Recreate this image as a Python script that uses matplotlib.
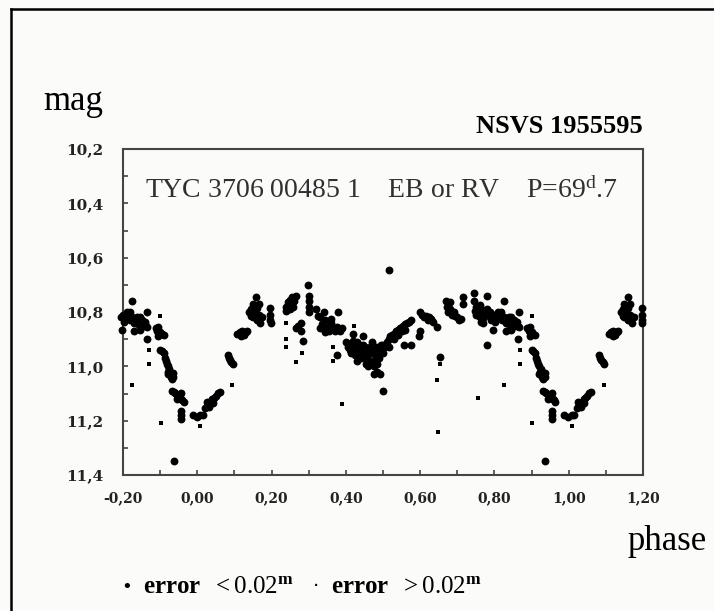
import matplotlib
matplotlib.use("Agg")
import matplotlib.pyplot as plt
from matplotlib.lines import Line2D
from matplotlib.ticker import MultipleLocator, FuncFormatter
import numpy as np

plt.rcParams['mathtext.fontset'] = 'custom'
plt.rcParams['mathtext.rm'] = 'Liberation Serif'
plt.rcParams['mathtext.it'] = 'Liberation Serif:italic'
plt.rcParams['mathtext.bf'] = 'Liberation Serif:bold'

# phase-folded light curve, one cycle (0..1); plotted again shifted by +-1
# error < 0.02 mag (big dots)
big_phase = [0.988, 0.998, 0.008, 0.015,
             0.022, 0.025, 0.028, 0.032, 0.036, 0.040, 0.042, 0.045, 0.050, 0.055, 0.060,
             0.082, 0.085, 0.088, 0.092, 0.095,
             0.108, 0.115, 0.118, 0.120, 0.125, 0.130, 0.133,
             0.140, 0.145, 0.145, 0.150, 0.150, 0.155, 0.159, 0.160, 0.160, 0.165, 0.165, 0.170, 0.175,
             0.196, 0.197, 0.197, 0.198,
             0.240, 0.240, 0.245, 0.250, 0.250, 0.255, 0.258, 0.260, 0.265,
             0.265, 0.272, 0.278, 0.280, 0.285,
             0.299, 0.300, 0.300, 0.301, 0.301,
             0.320, 0.325, 0.330, 0.330, 0.335, 0.340, 0.345, 0.345, 0.350, 0.355, 0.360, 0.360,
             0.365, 0.370, 0.375, 0.380, 0.380, 0.385, 0.390, 0.377,
             0.400, 0.405, 0.410, 0.415, 0.420, 0.420, 0.425, 0.430, 0.430, 0.435, 0.440, 0.440,
             0.445, 0.445, 0.450, 0.455, 0.460, 0.460, 0.465, 0.470, 0.470, 0.475, 0.475, 0.480,
             0.480, 0.485, 0.485, 0.490, 0.490, 0.493, 0.495, 0.500, 0.505, 0.500,
             0.412, 0.418, 0.428, 0.438, 0.448, 0.452, 0.458, 0.468, 0.472, 0.478, 0.488, 0.498,
             0.500, 0.510, 0.515, 0.515, 0.520, 0.525, 0.530, 0.530, 0.535, 0.540, 0.540, 0.545,
             0.550, 0.550, 0.555, 0.560, 0.560, 0.565, 0.570, 0.575, 0.557, 0.575,
             0.515,
             0.600, 0.605, 0.610, 0.615, 0.620, 0.625, 0.630, 0.635, 0.600, 0.598, 0.645, 0.654,
             0.670, 0.672, 0.675, 0.680, 0.680, 0.685, 0.690, 0.695, 0.700, 0.705, 0.710, 0.715, 0.715,
             0.745, 0.745, 0.750, 0.750, 0.755, 0.760, 0.760, 0.765, 0.765, 0.770, 0.770, 0.775,
             0.780, 0.780, 0.785, 0.790, 0.795, 0.797, 0.800, 0.805, 0.780,
             0.748, 0.752, 0.758, 0.762, 0.768, 0.772, 0.788, 0.792, 0.802,
             0.810, 0.815, 0.820, 0.825, 0.825, 0.830, 0.830, 0.835, 0.840, 0.845, 0.845, 0.850,
             0.855, 0.860, 0.865, 0.865, 0.864, 0.812, 0.818, 0.838, 0.842, 0.852, 0.858,
             0.888, 0.892, 0.895, 0.895, 0.900, 0.905, 0.910,
             0.900, 0.905, 0.910, 0.912, 0.915, 0.918, 0.920, 0.920, 0.922, 0.925, 0.925, 0.928,
             0.930, 0.932, 0.935, 0.935,
             0.932, 0.937, 0.940, 0.945, 0.945, 0.950, 0.953, 0.955, 0.957, 0.960, 0.963,
             0.955, 0.955, 0.956,
             0.937]
big_mag = [11.18, 11.185, 11.18, 11.18,
           11.155, 11.13, 11.14, 11.15, 11.13, 11.12, 11.135, 11.115, 11.11, 11.10, 11.095,
           10.96, 10.97, 10.975, 10.985, 10.99,
           10.88, 10.875, 10.89, 10.87, 10.885, 10.875, 10.87,
           10.80, 10.79, 10.815, 10.77, 10.82, 10.80, 10.745, 10.785, 10.83, 10.81, 10.77, 10.84, 10.82,
           10.785, 10.81, 10.83, 10.84,
           10.78, 10.795, 10.765, 10.755, 10.79, 10.745, 10.78, 10.76, 10.74,
           10.86, 10.85, 10.87, 10.84, 10.905,
           10.70, 10.74, 10.76, 10.78, 10.80,
           10.79, 10.815, 10.82, 10.86, 10.845, 10.80, 10.83, 10.875, 10.855, 10.87, 10.84, 10.825,
           10.86, 10.87, 10.855, 10.86, 10.80, 10.87, 10.86, 10.96,
           10.91, 10.93, 10.92, 10.95, 10.93, 10.88, 10.96, 10.91, 10.98, 10.95, 10.97, 10.935,
           10.92, 10.89, 10.94, 10.99, 10.96, 11.00, 10.93, 10.95, 10.91, 11.00, 11.03, 10.97,
           10.93, 11.02, 10.99, 10.94, 10.97, 11.03, 10.92, 10.95, 10.93, 11.09,
           10.94, 10.905, 10.94, 10.92, 10.96, 10.93, 10.975, 10.94, 10.98, 10.95, 10.955, 10.94,
           10.92, 10.91, 10.90, 10.93, 10.89, 10.885, 10.88, 10.90, 10.87, 10.865, 10.885, 10.86,
           10.855, 10.87, 10.85, 10.845, 10.865, 10.84, 10.835, 10.83, 10.92, 10.92,
           10.645,
           10.80, 10.81, 10.82, 10.815, 10.83, 10.82, 10.825, 10.835, 10.87, 10.89, 10.855, 10.965,
           10.76, 10.78, 10.80, 10.79, 10.765, 10.81, 10.80, 10.815, 10.82, 10.83, 10.825, 10.745, 10.77,
           10.73, 10.76, 10.78, 10.81, 10.80, 10.775, 10.82, 10.79, 10.835, 10.81, 10.84, 10.80,
           10.74, 10.79, 10.80, 10.815, 10.82, 10.865, 10.81, 10.825, 10.92,
           10.795, 10.79, 10.79, 10.80, 10.80, 10.82, 10.80, 10.83, 10.835,
           10.80, 10.815, 10.83, 10.76, 10.82, 10.84, 10.87, 10.83, 10.845, 10.82, 10.865, 10.84,
           10.85, 10.835, 10.80, 10.855, 10.90, 10.82, 10.80, 10.82, 10.835, 10.83, 10.845,
           10.86, 10.87, 10.855, 10.89, 10.875, 10.88, 10.885,
           10.94, 10.945, 10.95, 10.97, 10.98, 10.99, 11.00, 11.03, 11.02, 11.03, 11.01, 11.04,
           11.035, 11.045, 11.04, 11.025,
           11.09, 11.095, 11.10, 11.105, 11.12, 11.11, 11.115, 11.10, 11.12, 11.125, 11.13,
           11.165, 11.18, 11.195,
           11.35]

# error > 0.02 mag (small dots)
faint_phase = [0.900, 0.870, 0.870, 0.825, 0.902, 0.008, 0.094, 0.240, 0.240, 0.240,
               0.267, 0.283, 0.365, 0.365, 0.390, 0.422, 0.654, 0.645, 0.649, 0.756]
faint_mag = [10.815, 10.94, 10.99, 11.07, 11.21, 11.22, 11.07, 10.84, 10.90, 10.93,
             10.985, 10.95, 10.93, 10.98, 11.14, 10.85, 10.99, 11.05, 11.24, 11.115]


def fold(phase, mag):
    p = np.array(phase)
    m = np.array(mag)
    lo = p >= 0.795
    hi = p <= 0.205
    return (np.concatenate([p, p[lo] - 1, p[hi] + 1]),
            np.concatenate([m, m[lo], m[hi]]))


bx, by = fold(big_phase, big_mag)
fx, fy = fold(faint_phase, faint_mag)

bg = '#fbfcfa'
fig = plt.figure(figsize=(7.14, 6.11), dpi=100, facecolor=bg)
ax = fig.add_axes([123 / 714, 1 - 475 / 611, 520 / 714, 326 / 611], facecolor=bg)

ax.scatter(bx, by, s=32, c='black', marker='o', linewidths=0, clip_on=False, zorder=3)
ax.scatter(fx, fy, s=6, c='black', marker='s', linewidths=0, clip_on=False, zorder=3)

ax.set_xlim(-0.2, 1.2)
ax.set_ylim(11.4, 10.2)
ax.xaxis.set_major_locator(MultipleLocator(0.2))
ax.xaxis.set_minor_locator(MultipleLocator(0.1))
ax.yaxis.set_major_locator(MultipleLocator(0.2))
ax.yaxis.set_minor_locator(MultipleLocator(0.1))
ax.xaxis.set_major_formatter(FuncFormatter(lambda v, _: f"{v:.2f}".replace('.', ',')))
ax.yaxis.set_major_formatter(FuncFormatter(lambda v, _: f"{v:.1f}".replace('.', ',')))

for s in ax.spines.values():
    s.set_color('#444444')
    s.set_linewidth(1.5)
ax.tick_params(which='both', direction='in', length=3.5, width=1.2, color='#444444')
ax.tick_params(axis='x', which='major', pad=12)
ax.tick_params(axis='y', which='major', pad=14)
for lab in ax.get_xticklabels():
    lab.set_fontfamily('DejaVu Serif')
    lab.set_fontweight('bold')
    lab.set_fontsize(10)
    lab.set_color('#222222')
for lab in ax.get_yticklabels():
    lab.set_fontfamily('DejaVu Serif')
    lab.set_fontweight('bold')
    lab.set_fontsize(11)
    lab.set_color('#222222')

serif = 'Liberation Serif'
fig.text(43 / 714, 1 - 110 / 611, 'mag', family=serif, fontsize=25, va='baseline')
fig.text(707 / 714, 1 - 550 / 611, 'phase', family=serif, fontsize=25, ha='right', va='baseline')
fig.text(643 / 714, 1 - 133 / 611, 'NSVS 1955595', family=serif, fontsize=19, weight='bold',
         ha='right', va='baseline')
fig.text(145 / 714, 1 - 198 / 611, r'TYC 3706 00485 1    EB or RV    P=69$^{\mathrm{d}}$.7',
         family=serif, fontsize=20, color='#303030', va='baseline')

# legend line at the bottom
fig.text(127 / 714, 1 - 592 / 611, '\u2022', family='DejaVu Sans', fontsize=13, ha='center', va='baseline')
fig.text(143 / 714, 1 - 593 / 611, r'$\mathbf{error}$  $<0.02^{\mathbf{m}}$',
         family=serif, fontsize=18, va='baseline')
fig.text(316 / 714, 1 - 592 / 611, '\u00b7', family='DejaVu Sans', fontsize=14, ha='center', va='baseline')
fig.text(331 / 714, 1 - 593 / 611, r'$\mathbf{error}$  $>0.02^{\mathbf{m}}$',
         family=serif, fontsize=18, va='baseline')

# page frame (top and left edges visible)
fig.add_artist(Line2D([11 / 714, 1], [1 - 9 / 611, 1 - 9 / 611], transform=fig.transFigure,
                      color='black', linewidth=1.8))
fig.add_artist(Line2D([11 / 714, 11 / 714], [0, 1 - 9 / 611], transform=fig.transFigure,
                      color='black', linewidth=1.8))

fig.savefig('out.png', dpi=100, facecolor=bg)
